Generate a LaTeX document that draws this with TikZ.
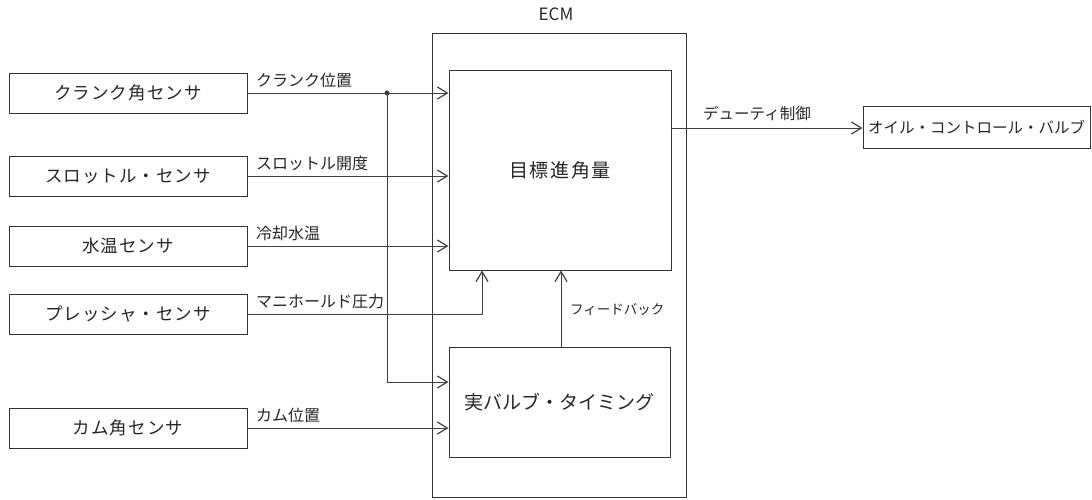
\documentclass[tikz,border=0pt]{standalone}
\usepackage{fontspec}
\setmainfont{Noto Sans CJK JP}
\usetikzlibrary{arrows.meta}
\begin{document}
\begin{tikzpicture}[x=1pt,y=-1pt,
  box/.style={draw=black!80,line width=1pt,rectangle,inner sep=0pt,text=black!85},
  sbox/.style={box,minimum width=238pt,minimum height=40pt,font=\fontsize{17.5}{20}\selectfont\addfontfeature{LetterSpace=6}},
  conn/.style={draw=black!75,line width=1pt},
  arr/.style={conn,-{Straight Barb[length=10pt,width=12pt,line width=1.2pt]}},
  lbl/.style={anchor=south west,inner sep=0pt,font=\fontsize{16}{18}\selectfont,text=black!85}
]
\useasboundingbox (0,0) rectangle (1092,499);
% ECM
\node[box,minimum width=254pt,minimum height=464pt] (ecm) at (559,265) {};
\node[font=\fontsize{17}{20}\selectfont,text=black!85] (ecmlbl) at (556,14) {ECM};
\node[box,minimum width=222pt,minimum height=200pt,font=\fontsize{19}{22}\selectfont\addfontfeature{LetterSpace=8}] (target) at (560,170) {目標進角量};
\node[box,minimum width=221pt,minimum height=110pt,font=\fontsize{19}{22}\selectfont] (actual) at (559.5,402) {実バルブ・タイミング};
\node[box,minimum width=227pt,minimum height=42pt,font=\fontsize{15.5}{18}\selectfont] (oil) at (976.5,127) {オイル・コントロール・バルブ};
% sensors
\node[sbox] (crank) at (128,93) {クランク角センサ};
\node[sbox] (throttle) at (128,176) {スロットル・センサ};
\node[sbox] (water) at (128,246) {水温センサ};
\node[sbox] (press) at (128,314) {プレッシャ・センサ};
\node[sbox] (cam) at (128,428) {カム角センサ};
% connectors
\coordinate (j) at (387,93);
\coordinate (jb) at (387,382);
\coordinate (pc) at (482,314);
\draw[arr] (crank.east) -- (crank.east -| target.west);
\draw[arr] (j) -- (jb) -- (jb -| actual.west);
\fill[black!75] (j) circle (2.6pt);
\draw[arr] (throttle.east) -- (throttle.east -| target.west);
\draw[arr] (water.east) -- (water.east -| target.west);
\draw[arr] (press.east) -- (pc) -- (pc |- target.south);
\draw[arr] (cam.east) -- (cam.east -| actual.west);
\coordinate (fb) at (561,347);
\draw[arr] (fb) -- (fb |- target.south);
\coordinate (out) at (671,128);
\draw[arr] (out) -- (out -| oil.west);
% labels
\node[lbl] (l1) at (256,88) {クランク位置};
\node[lbl] (l2) at (256,171) {スロットル開度};
\node[lbl] (l3) at (256,241) {冷却水温};
\node[lbl] (l4) at (256,309) {マニホールド圧力};
\node[lbl] (l5) at (256,423) {カム位置};
\node[lbl,font=\fontsize{13.5}{16}\selectfont] (l6) at (570,316) {フィードバック};
\node[lbl,font=\fontsize{15.5}{18}\selectfont] (l7) at (703,121) {デューティ制御};
\end{tikzpicture}
\end{document}
